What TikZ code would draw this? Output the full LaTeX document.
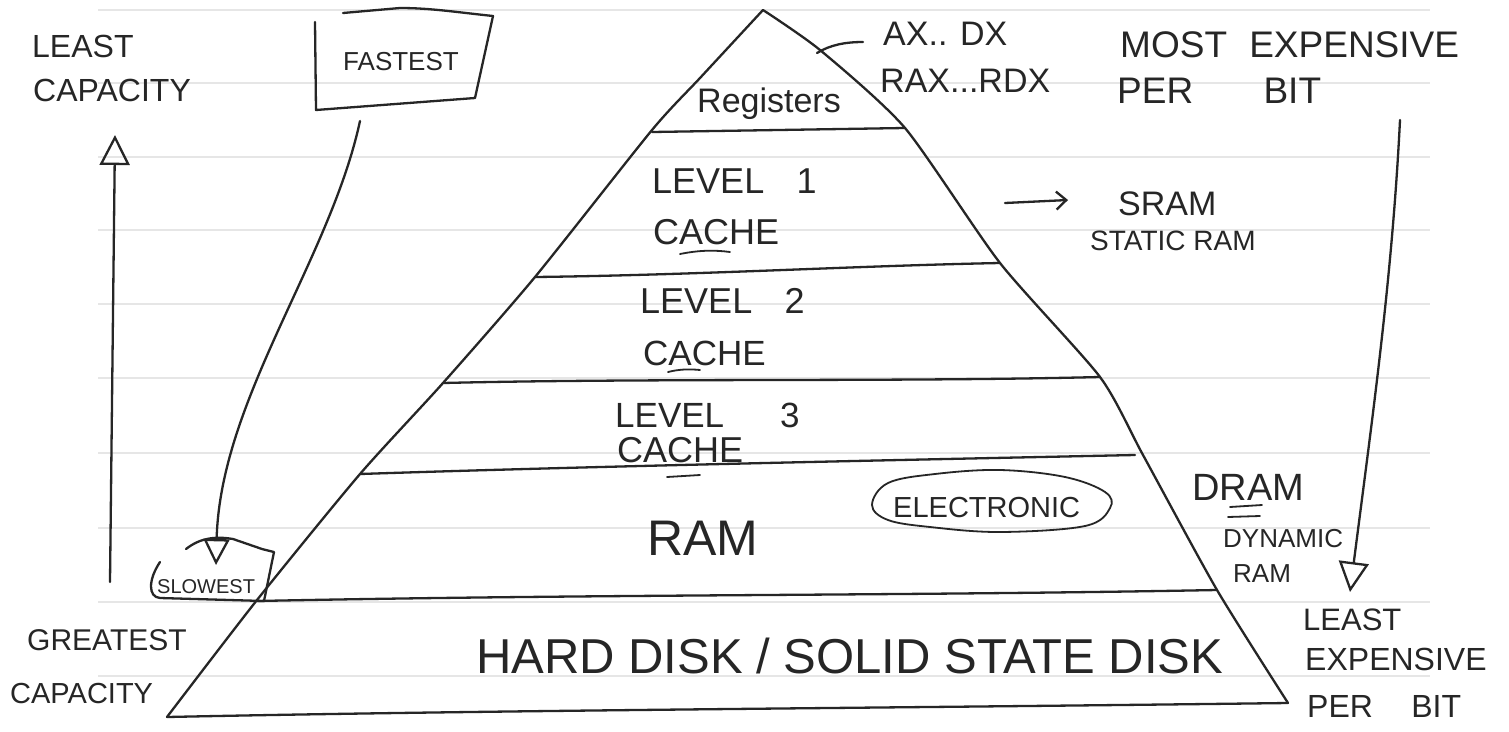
\documentclass[tikz,border=0pt]{standalone}
\usepackage{fontspec}
\setmainfont{Liberation Sans}
\usetikzlibrary{arrows.meta,calc}
\definecolor{ink}{HTML}{262626}
\definecolor{ruling}{HTML}{E6E6E6}
\newcommand\hsz[1]{\fontsize{#1}{#1}\selectfont}
\tikzset{
  pen/.style={draw=ink, line width=2.3pt, line cap=round, line join=round},
  finepen/.style={draw=ink, line width=1.8pt, line cap=round, line join=round},
  txt/.style={inner sep=0pt, anchor=base west, text=ink},
  openhead/.style={-{Triangle[open, length=#1, width=#1]}},
}
\begin{document}
\begin{tikzpicture}[x=1pt, y=-1pt]
  % page
  \fill[white] (0,0) rectangle (1509,731);
  \useasboundingbox (0,0) rectangle (1509,731);

  % ruled notebook lines
  \foreach \yy in {10,83,157,230,304,378,453,528,602,676}
    \draw[ruling, line width=1.2pt] (98,\yy) -- (1430,\yy);

  % pyramid outline
  \draw[pen] plot[smooth, tension=0.4] coordinates
    {(763,10) (700,78) (652,130) (535,277) (443,383) (360,474) (257,600) (167,717)};
  \draw[pen] plot[smooth, tension=0.4] coordinates
    {(763,10) (820,50) (905,128) (1000,263) (1100,377) (1143,455) (1217,590) (1288,703)};

  % level boundaries
  \draw[pen] (652,132) -- (905,128);
  \draw[pen] (535,277) .. controls (700,275) and (850,266) .. (1000,263);
  \draw[pen] (443,383) .. controls (650,378) and (900,382) .. (1100,377);
  \draw[pen] (360,474) .. controls (600,466) and (900,460) .. (1135,455);
  \draw[pen] (257,601) .. controls (600,594) and (900,596) .. (1217,590);
  \draw[pen] (167,717) .. controls (500,710) and (900,708) .. (1288,703);

  % level labels
  \node[txt, font=\hsz{34}] (registers) at (697,112) {Registers};
  \node[txt, font=\hsz{36}] (lvone) at (652,193) {LEVEL\hspace{0.9em}1};
  \node[txt, font=\hsz{36}] (cacheone) at (653,244) {CACHE};
  \node[txt, font=\hsz{36}] (lvtwo) at (640,313) {LEVEL\hspace{0.9em}2};
  \node[txt, font=\hsz{35}] (cachetwo) at (643,365) {CACHE};
  \node[txt, font=\hsz{35}] (lvthree) at (615,427) {LEVEL\hspace{1.6em}3};
  \node[txt, font=\hsz{36}] (cachethree) at (617,462) {CACHE};
  \node[txt, font=\hsz{50}] (ram) at (647,555) {RAM};
  \node[txt, font=\hsz{29}] (elec) at (893,517) {ELECTRONIC};
  \node[txt, font=\hsz{49}] (disk) at (476,673) {HARD DISK / SOLID STATE DISK};

  % underline strokes
  \draw[finepen] (680,254) .. controls (700,250) and (715,250) .. (730,252);
  \draw[finepen] (668,372) .. controls (680,369) and (690,369) .. (700,370);
  \draw[finepen] (667,477) -- (700,475);

  % loop round ELECTRONIC
  \draw[finepen] plot[smooth cycle, tension=0.6] coordinates
    {(872,505) (888,483) (935,474) (1000,470) (1065,477) (1105,492)
     (1110,508) (1085,526) (1000,532) (930,527) (888,520)};

  % register names
  \node[txt, font=\hsz{34}] (ax) at (883,45) {AX.. DX};
  \node[txt, font=\hsz{34}] (rax) at (880,92) {RAX...RDX};
  \coordinate (regtick) at (817,53);
  \coordinate (axtick) at (863,42);
  \draw[pen] (regtick) .. controls (830,45) and (845,42) .. (axtick);

  % SRAM note
  \node[txt, font=\hsz{34}] (sram) at (1118,215) {SRAM};
  \node[txt, font=\hsz{28}] (static) at (1090,250) {STATIC RAM};
  \coordinate (lonetick) at (1005,203);
  \coordinate (sramtip) at (1068,200);
  \draw[pen, -{Straight Barb[length=10pt, width=18pt]}] (lonetick) -- (sramtip);

  % DRAM note
  \node[txt, font=\hsz{38}] (dram) at (1192,500) {DRAM};
  \draw[finepen] (1230,507) -- (1262,505);
  \draw[finepen] (1228,517) -- (1260,516);
  \node[txt, font=\hsz{26}] (dyn) at (1223,547) {DYNAMIC};
  \node[txt, font=\hsz{26}] (dynram) at (1233,582) {RAM};

  % cost axis on the right
  \node[txt, font=\hsz{37}] (most) at (1120,57) {MOST\hspace{0.6em}EXPENSIVE};
  \node[txt, font=\hsz{37}] (perbit) at (1117,103) {PER\hspace{1.9em}BIT};
  \node[txt, font=\hsz{31}] (leasttwo) at (1303,630) {LEAST};
  \node[txt, font=\hsz{32}] (exptwo) at (1305,670) {EXPENSIVE};
  \node[txt, font=\hsz{32}] (perbittwo) at (1307,717) {PER\hspace{1.2em}BIT};
  \coordinate (rtop) at (1400,120);
  \coordinate (rtip) at (1350,592);
  \draw[pen, openhead=30pt] (rtop) .. controls (1392,280) and (1372,420) .. (rtip);

  % capacity axis on the left
  \node[txt, font=\hsz{32}] (leastone) at (32,57) {LEAST};
  \node[txt, font=\hsz{32}] (capone) at (33,101) {CAPACITY};
  \node[txt, font=\hsz{30}] (greatest) at (27,650) {GREATEST};
  \node[txt, font=\hsz{29}] (captwo) at (10,703) {CAPACITY};
  \coordinate (lfoot) at (110,582);
  \coordinate (ltip) at (115,135);
  \draw[pen, openhead=30pt] (lfoot) -- (ltip);

  % speed: fastest to slowest
  \node[txt, font=\hsz{26}] (fastest) at (343,70) {FASTEST};
  \draw[pen] (343,13) -- (400,8) .. controls (430,8) and (455,12) .. (493,16)
             -- (475,98) -- (316,110) -- (315,22);
  \node[txt, font=\hsz{20}] (slowest) at (157,593) {SLOWEST};
  \draw[pen] (186,549) .. controls (200,538) and (215,536) .. (233,539)
             -- (262,549) -- (274,552) -- (264,601) -- (160,598)
             .. controls (148,597) and (148,580) .. (160,562);
  \coordinate (fastfoot) at (360,121);
  \coordinate (slowtip) at (216,565);
  \draw[pen, openhead=26pt] (fastfoot) .. controls (330,260) and (220,400) .. (slowtip);
\end{tikzpicture}
\end{document}
